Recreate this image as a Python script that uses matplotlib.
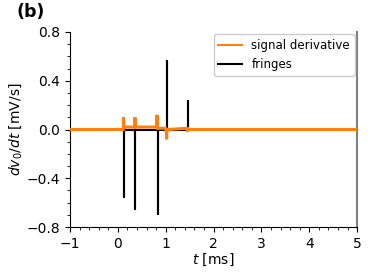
import matplotlib.pyplot as plt
from matplotlib.ticker import MultipleLocator

# orange trace: derivative of the signal
sig_t = [-1.0, -0.5, 0.0, 0.115, 0.12, 0.125, 0.14, 0.355, 0.36, 0.365, 0.38,
         0.6, 0.815, 0.82, 0.825, 0.85, 1.0, 1.015, 1.02, 1.025, 1.05, 1.44, 1.455,
         1.46, 1.465, 1.5, 2.0, 3.0, 4.0, 5.0]
sig_v = [0.0, 0.0, 0.0, 0.0, 0.1, 0.01, 0.02, 0.02, 0.1, 0.02, 0.02,
         0.02, 0.02, 0.12, 0.01, 0.01, 0.01, -0.03, -0.08, -0.01, 0.0, 0.01,
         -0.02, 0.02, 0.0, 0.0, 0.0, 0.0, 0.0, 0.0]

# fringe positions and heights
fringe_t = [0.12, 0.36, 0.84, 1.02, 1.46]
fringe_v = [-0.55, -0.65, -0.69, 0.56, 0.23]

fr_t = []
fr_v = []
for t, v in zip(fringe_t, fringe_v):
    fr_t += [t, t, t]
    fr_v += [0.0, v, 0.0]

fig = plt.figure(figsize=(3.74, 2.8), dpi=100)
ax = fig.add_axes([0.187, 0.189, 0.768, 0.697])

ax.plot(fr_t, fr_v, color='black', linewidth=1.5, zorder=2)
ax.plot(sig_t, sig_v, color='#ff7f0e', linewidth=2.2, zorder=3,
        solid_joinstyle='miter')

# legend handles in the order shown
h1, = ax.plot([], [], color='#ff7f0e', linewidth=1.5, label='signal derivative')
h2, = ax.plot([], [], color='black', linewidth=1.5, label='fringes')
ax.legend(handles=[h1, h2], loc='upper right', fontsize=8.5, framealpha=1,
          handlelength=2, borderaxespad=0.2)

ax.set_xlim(-1, 5)
ax.set_ylim(-0.8, 0.8)
ax.set_xticks([-1, 0, 1, 2, 3, 4, 5])
ax.set_yticks([-0.8, -0.4, 0.0, 0.4, 0.8])
ax.xaxis.set_minor_locator(MultipleLocator(0.2))
ax.yaxis.set_minor_locator(MultipleLocator(0.1))
ax.tick_params(labelsize=10)
ax.spines['top'].set_visible(False)
ax.spines['right'].set_color('gray')
ax.spines['right'].set_linewidth(1.5)

ax.set_xlabel('$t$ [ms]', fontsize=10, labelpad=1)
ax.set_ylabel('$dv_0/dt$ [mV/s]', fontsize=10, labelpad=2)
fig.text(0.045, 0.99, '(b)', fontsize=12.5, fontweight='bold', va='top')

fig.savefig('out.png', dpi=100)
